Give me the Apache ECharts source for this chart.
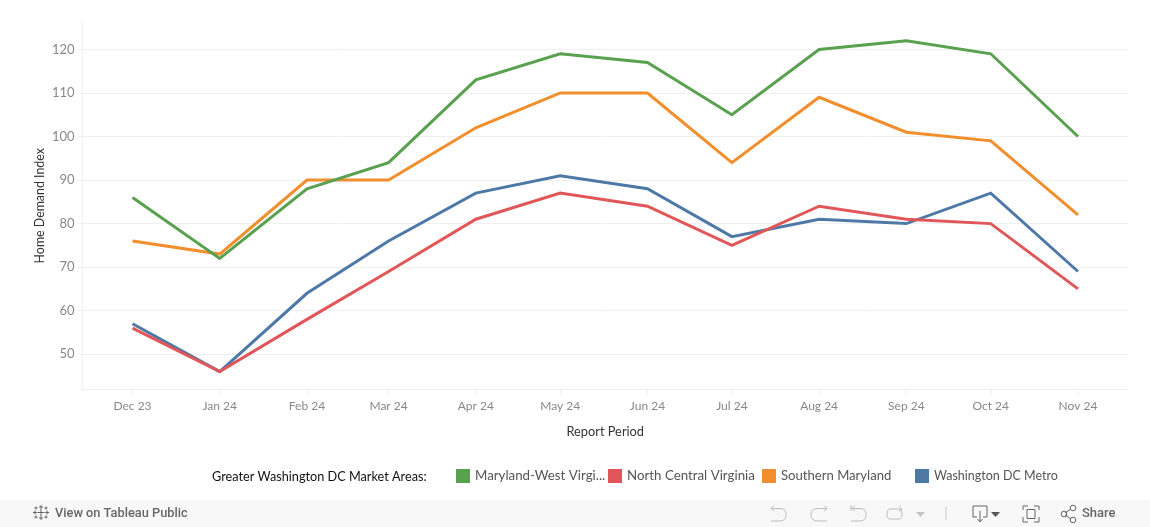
<!DOCTYPE html>
<html><head><meta charset="utf-8">
<style>html,body{margin:0;padding:0;background:#fff}#c{width:1150px;height:527px}</style>
<script src="https://cdn.jsdelivr.net/npm/echarts@6/dist/echarts.min.js"></script>
</head><body><div id="c"></div>
<script>
const categories=['Dec 23','Jan 24','Feb 24','Mar 24','Apr 24','May 24','Jun 24','Jul 24','Aug 24','Sep 24','Oct 24','Nov 24'];
const dayOffsets=[0,31,62,91,122,152,183,213,244,275,305,336];
const yTicks=[50,60,70,80,90,100,110,120];
const maryland=[86,72,88,94,113,119,117,105,120,122,119,100];
const northCentral=[56,46,58,69,81,87,84,75,84,81,80,65];
const southern=[76,73,90,90,102,110,110,94,109,101,99,82];
const dcMetro=[57,46,64,76,87,91,88,77,81,80,87,69];
const names=['Maryland-West Virginia','North Central Virginia','Southern Maryland','Washington DC Metro'];
const colors=['#59a14f','#e15759','#f28e2b','#4e79a7'];
const legendLeft=[456,608,762,915];
const legendFont=[13.3,13.3,13.1,12.5];
const font='Lato, "Open Sans", sans-serif';
const axisGrey='#f0f0f0';
const pairs=a=>a.map((v,i)=>[dayOffsets[i],v]);
const mk=(i,d)=>({name:names[i],type:'line',data:pairs(d),symbol:'none',smooth:false,silent:true,
  lineStyle:{width:3,color:colors[i],join:'miter'},itemStyle:{color:colors[i]},z:3});
echarts.graphic.registerShape('iconGlyph',echarts.graphic.extendShape({
  shape:{d:''},
  buildPath(ctx,s){
    const t=s.d.match(/[MLHVQZ]|-?[\d.]+/g)||[];let i=0,x=0,y=0,c='';
    while(i<t.length){
      if(/[MLHVQZ]/.test(t[i]))c=t[i++];
      if(c==='M'||c==='L'){x=+t[i++];y=+t[i++];c==='M'?ctx.moveTo(x,y):ctx.lineTo(x,y);}
      else if(c==='H'){x=+t[i++];ctx.lineTo(x,y);}
      else if(c==='V'){y=+t[i++];ctx.lineTo(x,y);}
      else if(c==='Q'){const a=+t[i++],b=+t[i++];x=+t[i++];y=+t[i++];ctx.quadraticCurveTo(a,b,x,y);}
      else if(c==='Z'){ctx.closePath();}
    }
  }
}));
const chart=echarts.init(document.getElementById('c'),null,{renderer:'canvas'});
const greyIcon='#bdbdbd', darkIcon='#666';
const iconLine=(d,stroke)=>({type:'iconGlyph',shape:{d:d},style:{fill:null,stroke:stroke,lineWidth:1},silent:true,z:20});
const plus=(cx,cy,r)=>`M${cx-r} ${cy}H${cx+r}M${cx} ${cy-r}V${cy+r}`;
const logo=[plus(41,512.5,3.5),plus(41,507,2),plus(41,518,2),plus(35,512.5,2),plus(47,512.5,2),plus(36,508,1.5),plus(46,508,1.5),plus(36,517,1.5),plus(46,517,1.5)].join('');
chart.setOption({
  animation:false,
  backgroundColor:'#fff',
  grid:{left:82.5,top:22,width:1045.5,height:367.5,containLabel:false},
  xAxis:{type:'value',min:-17.77,max:353.77,
    name:'Report Period',nameLocation:'middle',nameGap:36,
    nameTextStyle:{color:'#333',fontSize:12.8,fontFamily:font},
    axisLine:{show:true,onZero:false,lineStyle:{color:axisGrey,width:1}},
    axisTick:{show:true,length:5,lineStyle:{color:axisGrey},customValues:dayOffsets},
    axisLabel:{customValues:dayOffsets,color:'#888',fontSize:12,fontFamily:font,margin:11,formatter:v=>categories[dayOffsets.indexOf(v)]||''},
    splitLine:{show:false},minorTick:{show:false}},
  yAxis:{type:'value',min:41.9,max:126.3,
    name:'Home Demand Index',nameLocation:'middle',nameGap:37,nameRotate:90,nameMoveOverlap:false,
    nameTextStyle:{color:'#333',fontSize:12.4,fontFamily:font},
    axisLine:{show:true,onZero:false,lineStyle:{color:axisGrey,width:1}},
    axisTick:{show:true,length:5,lineStyle:{color:axisGrey},customValues:yTicks},
    axisLabel:{customValues:yTicks,color:'#888',fontSize:13,fontFamily:font,margin:8},
    splitLine:{show:true,lineStyle:{color:axisGrey,width:1}}},
  legend:names.map((n,i)=>({
    show:true,left:legendLeft[i],top:469,data:[n],icon:'rect',itemWidth:14,itemHeight:14,selectedMode:false,padding:0,
    formatter:s=>s==='Maryland-West Virginia'?'Maryland-West Virgi...':s,
    textStyle:{color:'#555',fontSize:legendFont[i],fontFamily:font}})),
  series:[mk(3,dcMetro),mk(2,southern),mk(1,northCentral),mk(0,maryland)],
  graphic:[
    {type:'rect',shape:{x:0,y:500,width:1150,height:27},style:{fill:'#f8f8f8'},silent:true,z:1},
    {type:'text',x:212,y:470,style:{text:'Greater Washington DC Market Areas:',fill:'#111',font:'12.7px '+font},silent:true,z:20},
    {type:'text',x:55,y:507,style:{text:'View on Tableau Public',fill:'#666',font:'500 12.8px Roboto, sans-serif'},silent:true,z:20},
    {type:'text',x:1082,y:507,style:{text:'Share',fill:'#666',font:'500 13px Roboto, sans-serif'},silent:true,z:20},
    iconLine(logo,'#666'),
    iconLine('M771 508.5H780Q786 508.5 786 514.5Q786 521 780 521H771M774 505.5L771 508.5L774 511',greyIcon),
    iconLine('M827 508.5H818Q811 508.5 811 514.5Q811 521 818 521H827M824 505.5L827 508.5L824 511',greyIcon),
    iconLine('M851 505V511M851 508.5H860Q866 508.5 866 514.5Q866 521 860 521H851M855 505.5L852 508.5L855 511',greyIcon),
    iconLine('M890 509H899Q902 509 902 514Q902 519 899 519H890Q887 519 887 514Q887 509 890 509M899 506.5L902 509L899 511.5',greyIcon),
    {type:'polygon',shape:{points:[[916,512],[925,512],[920.5,517]]},style:{fill:'#c4c4c4'},silent:true,z:20},
    {type:'line',shape:{x1:946,y1:507,x2:946,y2:520},style:{stroke:'#c8c8c8',lineWidth:1},silent:true,z:20},
    iconLine('M977 517H973V506H987V517H983M980 511V521M977.5 519L980 522L982.5 519',darkIcon),
    {type:'polygon',shape:{points:[[991,512],[1000,512],[995.5,517]]},style:{fill:'#555'},silent:true,z:20},
    iconLine('M1023 510V506H1028M1034 506H1039V510M1039 517V522H1034M1028 522H1023V517M1027 509.5H1035V518.5H1027Z',darkIcon),
    iconLine('M1065 513L1071 509M1065 515L1071 519',darkIcon),
    {type:'circle',shape:{cx:1064,cy:514,r:2.8},style:{fill:null,stroke:darkIcon,lineWidth:1},silent:true,z:20},
    {type:'circle',shape:{cx:1073,cy:508,r:2.8},style:{fill:null,stroke:darkIcon,lineWidth:1},silent:true,z:20},
    {type:'circle',shape:{cx:1073,cy:520,r:2.8},style:{fill:null,stroke:darkIcon,lineWidth:1},silent:true,z:20}
  ]
});
</script></body></html>
